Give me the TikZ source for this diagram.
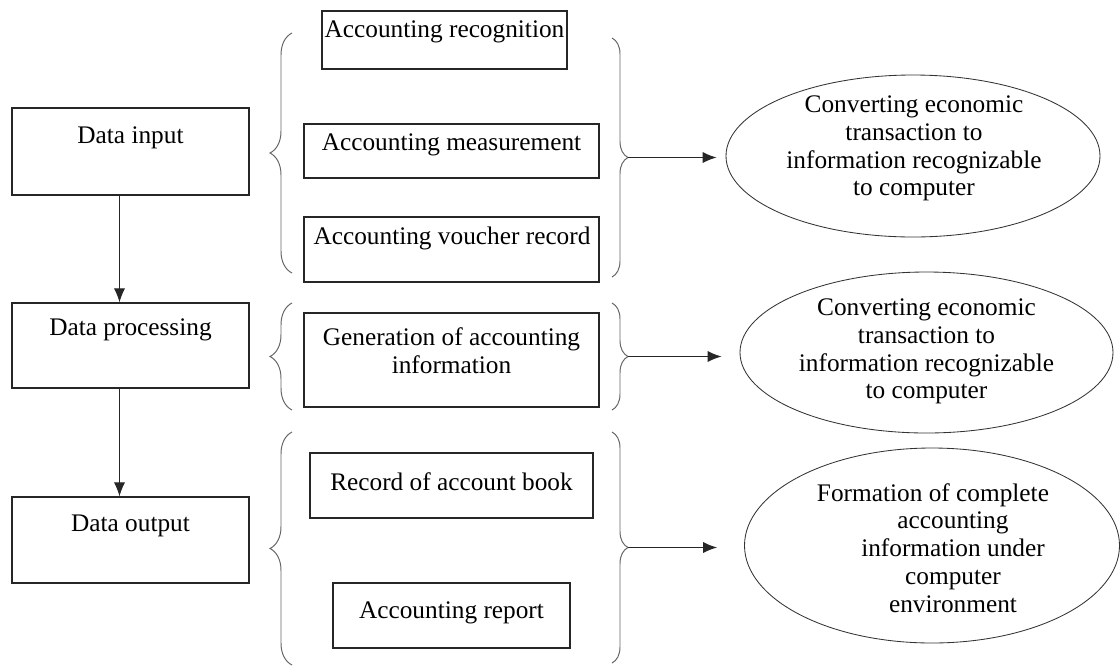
\documentclass[tikz,border=0pt]{standalone}
\usepackage{fontspec}
\setmainfont{Liberation Serif}
\newfontfamily\timesnr{Liberation Serif}
\usepackage{tikz}
\usetikzlibrary{shapes.geometric,arrows.meta,decorations.pathreplacing}
\tikzset{
  wh/.style 2 args={minimum width=#1*0.025cm,minimum height=#2*0.025cm,inner sep=0pt},
  box/.style={draw=black!85,line width=0.9pt},
  oval/.style={draw=black!80,line width=0.6pt,ellipse},
  txt/.style={align=center,inner sep=0pt},
  brL/.style={draw=black!60,line width=0.7pt,decorate,decoration={brace,amplitude=0.55cm}},
  brR/.style={draw=black!60,line width=0.7pt,decorate,decoration={brace,amplitude=0.4cm}},
  arr/.style={black!85,line width=0.8pt,-{Latex[length=10pt,width=8pt]}}
}

\begin{document}
\begin{tikzpicture}[x=0.025cm,y=-0.025cm,font=\timesnr\fontsize{18}{19.8}\selectfont]
\useasboundingbox (0,0) rectangle (1120,667);

% stages
\node[box,wh={237}{87}] (din) at (130.5,151.5) {};
\node[box,wh={237}{85}] (dproc) at (130.5,345.5) {};
\node[box,wh={237}{86}] (dout) at (130.5,540) {};
\node[txt] (dinT) at (130.5,138) {Data input};
\node[txt] (dprocT) at (130.5,330) {Data processing};
\node[txt] (doutT) at (130.5,526) {Data output};
\draw[arr] ([xshift=-0.275cm]din.south) -- ([xshift=-0.275cm]dproc.north);
\draw[arr] ([xshift=-0.275cm]dproc.south) -- ([xshift=-0.275cm]dout.north);

% tasks
\node[box,wh={245}{58}] (recog) at (444.5,40) {};
\node[box,wh={295}{54}] (meas) at (451.5,151) {};
\node[box,wh={295}{65}] (vouch) at (451.5,249.5) {};
\node[box,wh={295}{94}] (gen) at (451.5,360) {};
\node[box,wh={283}{65}] (book) at (451.5,485.5) {};
\node[box,wh={237}{65}] (report) at (451.5,615.5) {};
\node[txt] (recogT) at (444.5,32) {Accounting recognition};
\node[txt] (measT) at (451.5,145) {Accounting measurement};
\node[txt] (vouchT) at (452,238) {Accounting voucher record};
\node[txt] (genT) at (451.5,351) {Generation of accounting\\information};
\node[txt] (bookT) at (451.5,482) {Record of account book};
\node[txt] (reportT) at (451.5,613) {Accounting report};

% braces
\draw[brL] (292,273) -- (292,33);
\draw[brL] (292,410) -- (292,303);
\draw[brL] (292,665) -- (292,432);
\draw[brR] (612,38) -- (612,277);
\draw[brR] (612,303) -- (612,410);
\draw[brR] (612,432) -- (612,663);
\coordinate (tip1) at (628,157.5);
\coordinate (tip2) at (628,356.5);
\coordinate (tip3) at (628,547.5);

% results
\node[oval,wh={374}{162}] (res1) at (913,156) {};
\node[oval,wh={373}{161}] (res2) at (926.5,352.5) {};
\node[oval,wh={375}{195}] (res3) at (932,545.5) {};
\node[txt] (res1T) at (914,148.5) {Converting economic\\transaction to\\information recognizable\\to computer};
\node[txt] (res2T) at (926.5,351.5) {Converting economic\\transaction to\\information recognizable\\to computer};
\node[txt] (res3T) at (953,548) {\hspace*{-28.5pt}Formation of complete\\accounting\\information under\\computer\\environment};
\draw[arr,shorten >=0.225cm] (tip1) -- (tip1 -| res1.west);
\draw[arr,shorten >=0.45cm] (tip2) -- (tip2 -| res2.west);
\draw[arr,shorten >=0.675cm] (tip3) -- (tip3 -| res3.west);
\end{tikzpicture}
\end{document}
